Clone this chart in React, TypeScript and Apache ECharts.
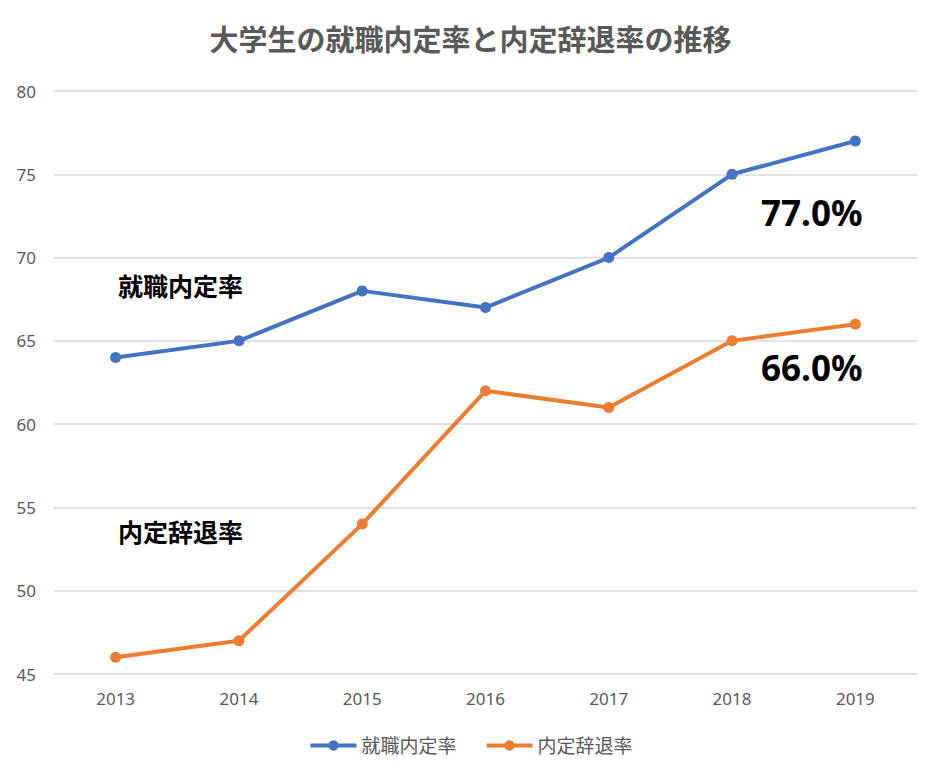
import React, { useEffect, useRef } from "react";
import * as echarts from "echarts";

const years = ["2013", "2014", "2015", "2016", "2017", "2018", "2019"];
const naiteiRate = [64, 65, 68, 67, 70, 75, 77];
const jitaiRate = [46, 47, 54, 62, 61, 65, 66];
const seriesNames = ["就職内定率", "内定辞退率"];
const titleText = "大学生の就職内定率と内定辞退率の推移";

const FONT = "'Noto Sans', 'Noto Sans CJK JP', sans-serif";

export default function App() {
  const ref = useRef<HTMLDivElement>(null);
  useEffect(() => {
    if (!ref.current) return;
    const chart = echarts.init(ref.current, undefined, { renderer: "svg" });
    chart.setOption({
      animation: false,
      title: {
        text: titleText,
        left: "center",
        top: 20,
        textStyle: { fontFamily: FONT, fontSize: 29, fontWeight: "bold", color: "#595959" },
      },
      legend: {
        top: 731,
        left: "center",
        itemWidth: 46,
        itemHeight: 13,
        itemGap: 28,
        lineStyle: { width: 4 },
        textStyle: { fontFamily: FONT, fontSize: 19, color: "#595959" },
        data: seriesNames,
      },
      grid: { left: 54, right: 24, top: 91, bottom: 102 },
      xAxis: {
        type: "category",
        data: years,
        boundaryGap: true,
        axisLine: { show: false },
        axisTick: { show: false },
        axisLabel: { fontFamily: FONT, fontSize: 17, color: "#595959", margin: 16 },
      },
      yAxis: {
        type: "value",
        min: 45,
        max: 80,
        interval: 5,
        axisLine: { show: false },
        axisTick: { show: false },
        axisLabel: { fontFamily: FONT, fontSize: 17, color: "#595959", margin: 18 },
        splitLine: { lineStyle: { color: "#d9d9d9", width: 1.5 } },
      },
      series: [
        {
          name: seriesNames[0],
          type: "line",
          data: naiteiRate,
          symbol: "circle",
          symbolSize: 11,
          lineStyle: { width: 4, color: "#4472c4" },
          itemStyle: { color: "#4472c4" },
        },
        {
          name: seriesNames[1],
          type: "line",
          data: jitaiRate,
          symbol: "circle",
          symbolSize: 11,
          lineStyle: { width: 4, color: "#ed7d31" },
          itemStyle: { color: "#ed7d31" },
        },
      ],
      graphic: [
        {
          type: "text",
          x: 118,
          y: 286,
          style: { text: seriesNames[0], fontFamily: FONT, fontSize: 25, fontWeight: "bold", fill: "#000", verticalAlign: "middle" },
        },
        {
          type: "text",
          x: 118,
          y: 532,
          style: { text: seriesNames[1], fontFamily: FONT, fontSize: 25, fontWeight: "bold", fill: "#000", verticalAlign: "middle" },
        },
        {
          type: "text",
          x: 761,
          y: 212,
          style: { text: naiteiRate[6].toFixed(1) + "%", fontFamily: FONT, fontSize: 35, fontWeight: "bold", fill: "#000", verticalAlign: "middle" },
        },
        {
          type: "text",
          x: 761,
          y: 367,
          style: { text: jitaiRate[6].toFixed(1) + "%", fontFamily: FONT, fontSize: 35, fontWeight: "bold", fill: "#000", verticalAlign: "middle" },
        },
      ],
    });
    return () => chart.dispose();
  }, []);
  return <div ref={ref} style={{ position: "absolute", left: 0, top: 0, width: 941, height: 776 }} />;
}
